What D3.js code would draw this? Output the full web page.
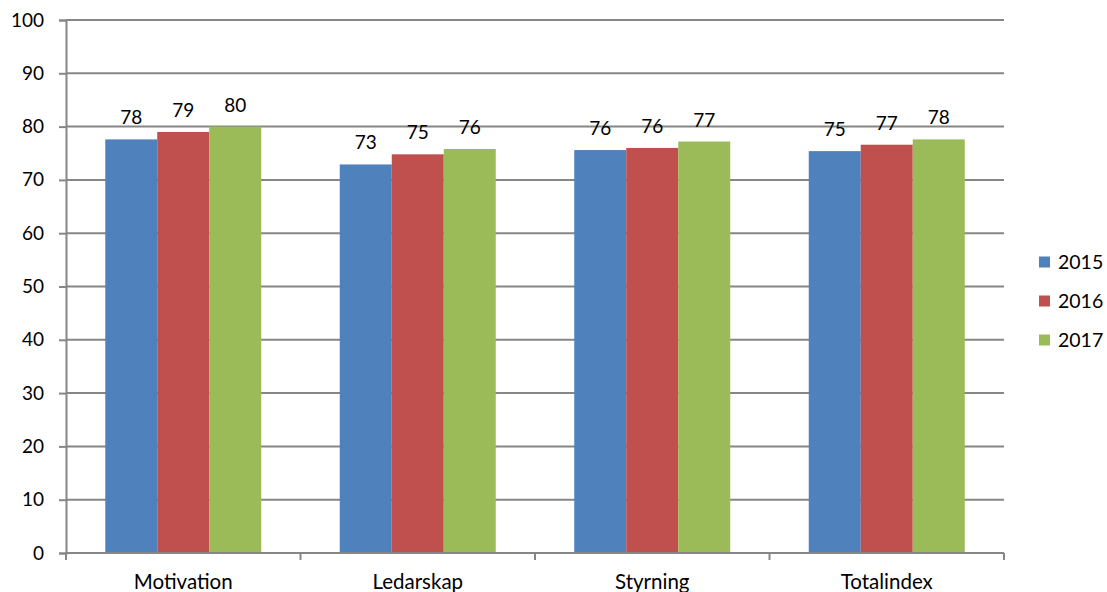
<!DOCTYPE html>
<html>
<head>
<meta charset="utf-8">
<script src="https://cdn.jsdelivr.net/npm/d3@7"></script>
<style>
  html, body { margin: 0; padding: 0; background: #fff; }
  svg { display: block; }
  text { font-family: Lato, "Open Sans", sans-serif; fill: #000; }
</style>
</head>
<body>
<svg id="chart" width="1107" height="592"></svg>
<script>
const categories = ["Motivation", "Ledarskap", "Styrning", "Totalindex"];
const seriesNames = ["2015", "2016", "2017"];
const values2015 = [77.6, 72.9, 75.6, 75.4];
const values2016 = [79.0, 74.8, 76.0, 76.6];
const values2017 = [80.0, 75.8, 77.2, 77.6];
const yTicks = [0, 10, 20, 30, 40, 50, 60, 70, 80, 90, 100];
const colors = ["#4f81bd", "#c0504d", "#9bbb59"];

const seriesValues = [values2015, values2016, values2017];
const svg = d3.select("#chart");
const mLeft = 66, mRight = 1004, mTop = 20, mBottom = 553;

const x = d3.scaleBand().domain(categories).range([mLeft, mRight]).paddingInner(0).paddingOuter(0);
const y = d3.scaleLinear().domain([0, 100]).range([mBottom, mTop]);
const groupPad = 39.25;
const xs = d3.scaleBand().domain(seriesNames).range([groupPad, x.bandwidth() - groupPad]).padding(0);

const gridColor = "#868686";

// gridlines
svg.append("g").selectAll("line").data(yTicks.filter(d => d > 0)).join("line")
  .attr("x1", mLeft).attr("x2", mRight)
  .attr("y1", d => y(d)).attr("y2", d => y(d))
  .attr("stroke", gridColor).attr("stroke-width", 2);

// y axis
const yAxis = svg.append("g").attr("transform", `translate(${mLeft},0)`)
  .call(d3.axisLeft(y).tickValues(yTicks).tickSize(7).tickPadding(15).tickFormat(d3.format("d")));
yAxis.select(".domain").attr("stroke", gridColor).attr("stroke-width", 2);
yAxis.selectAll(".tick line").attr("stroke", gridColor).attr("stroke-width", 2);
yAxis.selectAll(".tick text").attr("font-size", 19).attr("font-family", "Lato, sans-serif").attr("fill", "#000");

// bars
const groups = svg.append("g").selectAll("g").data(categories).join("g")
  .attr("transform", d => `translate(${x(d)},0)`);
groups.selectAll("rect").data((c, i) => seriesNames.map((s, j) => ({ s, j, v: seriesValues[j][i] }))).join("rect")
  .attr("x", d => xs(d.s)).attr("width", xs.bandwidth())
  .attr("y", d => y(d.v)).attr("height", d => y(0) - y(d.v))
  .attr("fill", d => colors[d.j]);
groups.selectAll("text").data((c, i) => seriesNames.map((s, j) => ({ s, j, v: seriesValues[j][i] }))).join("text")
  .attr("x", d => xs(d.s) + xs.bandwidth() / 2)
  .attr("y", d => y(d.v) - 15)
  .attr("text-anchor", "middle").attr("font-size", 19)
  .text(d => Math.round(d.v));

// x axis
const xAxisG = svg.append("g").attr("transform", `translate(0,${mBottom})`);
xAxisG.append("line").attr("x1", mLeft).attr("x2", mRight).attr("y1", 0).attr("y2", 0)
  .attr("stroke", gridColor).attr("stroke-width", 2);
const bounds = categories.map(c => x(c)).concat([mRight]);
xAxisG.selectAll("line.tk").data(bounds).join("line").attr("class", "tk")
  .attr("x1", d => d).attr("x2", d => d).attr("y1", 0).attr("y2", 7)
  .attr("stroke", gridColor).attr("stroke-width", 2);
xAxisG.selectAll("text").data(categories).join("text")
  .attr("x", d => x(d) + x.bandwidth() / 2).attr("y", 36)
  .attr("text-anchor", "middle").attr("font-size", 20.5)
  .text(d => d);

// legend
const legend = svg.append("g");
const legY = [262, 301, 340];
seriesNames.forEach((s, j) => {
  legend.append("rect").attr("x", 1039).attr("y", legY[j] - 5.5).attr("width", 11).attr("height", 11).attr("fill", colors[j]);
  legend.append("text").attr("x", 1058).attr("y", legY[j] + 7).attr("font-size", 19.5).text(s);
});
</script>
</body>
</html>
